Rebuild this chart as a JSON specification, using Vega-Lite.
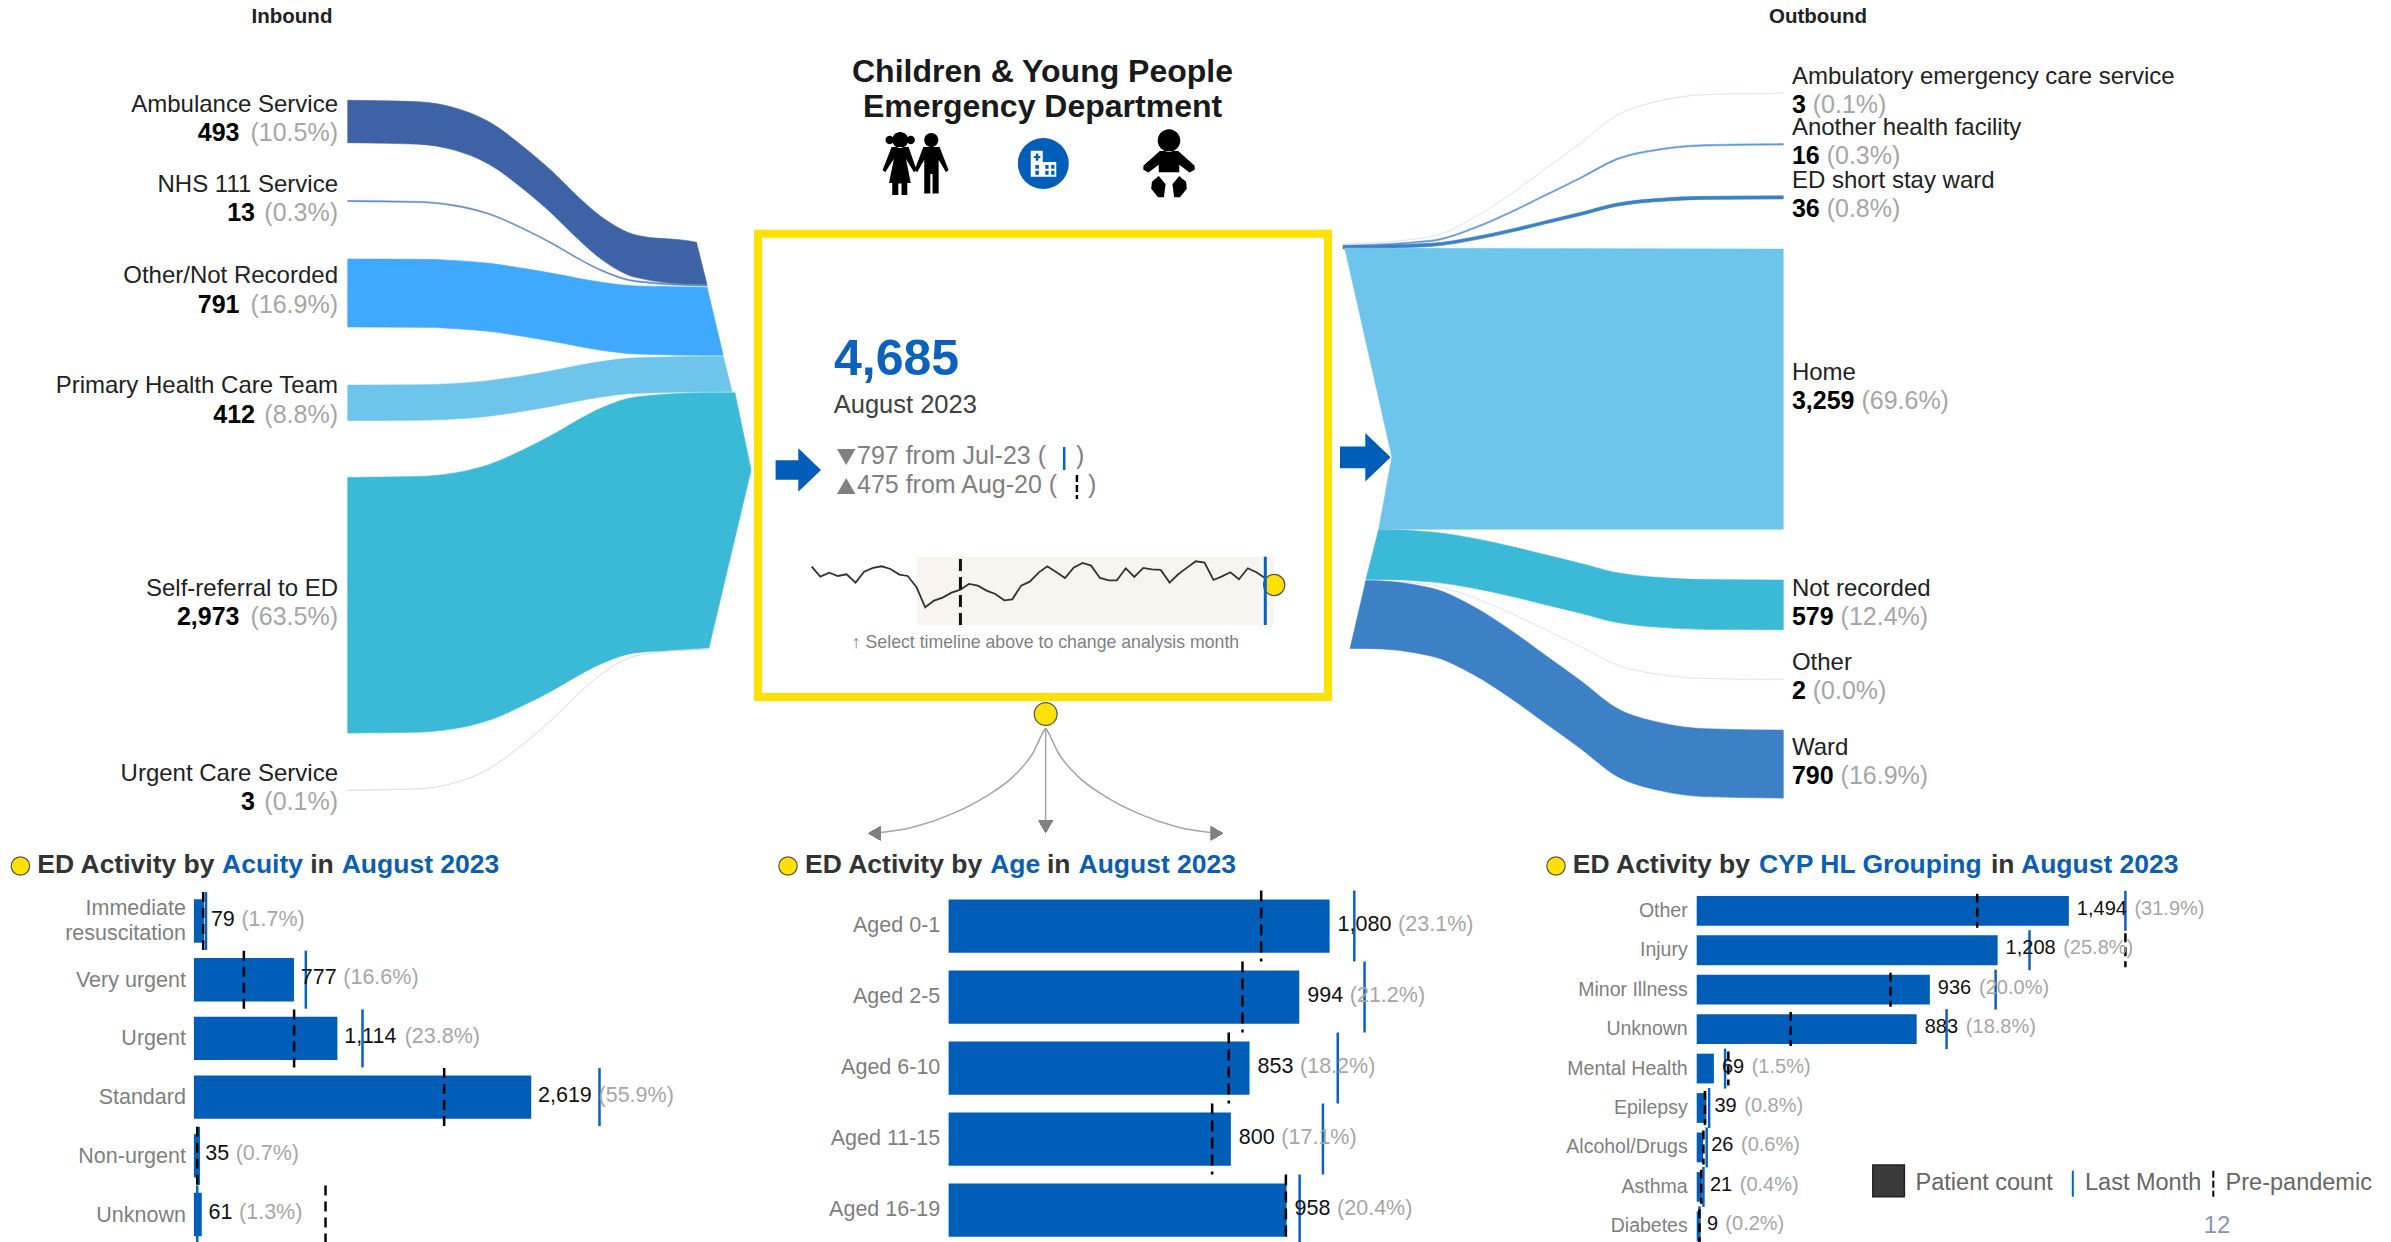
{"$schema":"https://vega.github.io/schema/vega-lite/v6.json","width":2391,"height":1242,"autosize":"none","padding":0,"background":"white",
"config":{"font":"Liberation Sans","view":{"stroke":null},"axis":{"disable":true},"legend":{"disable":true},"text":{"baseline":"middle"}},
"resolve":{"scale":{"x":"independent","y":"independent","color":"independent","stroke":"independent"}},
"data":{"values":[{"k":1}]},
"datasets":{
"inflow":[
{"flow":"Ambulance Service","stage":0,"top":1166,"bottom":1659},{"flow":"Ambulance Service","stage":20,"top":1183,"bottom":1676},{"flow":"Ambulance Service","stage":30,"top":1249,"bottom":1742},{"flow":"Ambulance Service","stage":40,"top":1414,"bottom":1907},{"flow":"Ambulance Service","stage":50,"top":1711,"bottom":2204},{"flow":"Ambulance Service","stage":58,"top":1992,"bottom":2485},{"flow":"Ambulance Service","stage":65,"top":2273,"bottom":2766},{"flow":"Ambulance Service","stage":72,"top":2521,"bottom":3014},{"flow":"Ambulance Service","stage":82,"top":2735,"bottom":3228},{"flow":"Ambulance Service","stage":99,"top":2818,"bottom":3311},{"flow":"Ambulance Service","stage":99.2,"top":2851,"bottom":3311},{"flow":"Ambulance Service","stage":100.5,"top":3064,"bottom":3311},{"flow":"Ambulance Service","stage":101.8,"top":3278,"bottom":3311},{"flow":"Ambulance Service","stage":102,"top":3311,"bottom":3311},
{"flow":"NHS 111 Service","stage":0,"top":2332,"bottom":2345},{"flow":"NHS 111 Service","stage":20,"top":2342,"bottom":2355},{"flow":"NHS 111 Service","stage":30,"top":2381,"bottom":2394},{"flow":"NHS 111 Service","stage":40,"top":2479,"bottom":2492},{"flow":"NHS 111 Service","stage":50,"top":2656,"bottom":2669},{"flow":"NHS 111 Service","stage":58,"top":2823,"bottom":2836},{"flow":"NHS 111 Service","stage":65,"top":2990,"bottom":3003},{"flow":"NHS 111 Service","stage":72,"top":3137,"bottom":3150},{"flow":"NHS 111 Service","stage":82,"top":3265,"bottom":3278},{"flow":"NHS 111 Service","stage":102,"top":3314,"bottom":3327},
{"flow":"Other/Not Recorded","stage":0,"top":3012,"bottom":3803},{"flow":"Other/Not Recorded","stage":20,"top":3015,"bottom":3806},{"flow":"Other/Not Recorded","stage":30,"top":3028,"bottom":3819},{"flow":"Other/Not Recorded","stage":40,"top":3061,"bottom":3852},{"flow":"Other/Not Recorded","stage":50,"top":3121,"bottom":3912},{"flow":"Other/Not Recorded","stage":58,"top":3177,"bottom":3968},{"flow":"Other/Not Recorded","stage":65,"top":3232,"bottom":4023},{"flow":"Other/Not Recorded","stage":72,"top":3282,"bottom":4073},{"flow":"Other/Not Recorded","stage":82,"top":3325,"bottom":4116},{"flow":"Other/Not Recorded","stage":102,"top":3341,"bottom":4132},{"flow":"Other/Not Recorded","stage":102.2,"top":3375,"bottom":4132},{"flow":"Other/Not Recorded","stage":104,"top":3685,"bottom":4132},{"flow":"Other/Not Recorded","stage":106.4,"top":4098,"bottom":4132},{"flow":"Other/Not Recorded","stage":106.6,"top":4132,"bottom":4132},
{"flow":"Primary Health Care Team","stage":0,"top":4478,"bottom":4890},{"flow":"Primary Health Care Team","stage":20,"top":4475,"bottom":4887},{"flow":"Primary Health Care Team","stage":30,"top":4461,"bottom":4873},{"flow":"Primary Health Care Team","stage":40,"top":4428,"bottom":4840},{"flow":"Primary Health Care Team","stage":50,"top":4368,"bottom":4780},{"flow":"Primary Health Care Team","stage":58,"top":4311,"bottom":4723},{"flow":"Primary Health Care Team","stage":65,"top":4254,"bottom":4666},{"flow":"Primary Health Care Team","stage":72,"top":4204,"bottom":4616},{"flow":"Primary Health Care Team","stage":82,"top":4161,"bottom":4573},{"flow":"Primary Health Care Team","stage":106.6,"top":4144,"bottom":4556},{"flow":"Primary Health Care Team","stage":106.8,"top":4177,"bottom":4556},{"flow":"Primary Health Care Team","stage":108,"top":4375,"bottom":4556},{"flow":"Primary Health Care Team","stage":108.9,"top":4523,"bottom":4556},{"flow":"Primary Health Care Team","stage":109.1,"top":4556,"bottom":4556},
{"flow":"Self-referral to ED","stage":0,"top":5551,"bottom":8524},{"flow":"Self-referral to ED","stage":20,"top":5541,"bottom":8514},{"flow":"Self-referral to ED","stage":30,"top":5502,"bottom":8475},{"flow":"Self-referral to ED","stage":40,"top":5403,"bottom":8376},{"flow":"Self-referral to ED","stage":50,"top":5226,"bottom":8199},{"flow":"Self-referral to ED","stage":58,"top":5059,"bottom":8032},{"flow":"Self-referral to ED","stage":65,"top":4892,"bottom":7865},{"flow":"Self-referral to ED","stage":72,"top":4744,"bottom":7717},{"flow":"Self-referral to ED","stage":82,"top":4616,"bottom":7589},{"flow":"Self-referral to ED","stage":102.5,"top":4567,"bottom":7540},{"flow":"Self-referral to ED","stage":102.7,"top":4567,"bottom":7505},{"flow":"Self-referral to ED","stage":106,"top":4567,"bottom":6935},{"flow":"Self-referral to ED","stage":109.9,"top":4567,"bottom":6260},{"flow":"Self-referral to ED","stage":110.1,"top":4606,"bottom":6226},{"flow":"Self-referral to ED","stage":112,"top":4977,"bottom":5897},{"flow":"Self-referral to ED","stage":114.3,"top":5426,"bottom":5500},{"flow":"Self-referral to ED","stage":114.5,"top":5465,"bottom":5465},
{"flow":"Urgent Care Service","stage":0,"top":9188,"bottom":9191},{"flow":"Urgent Care Service","stage":20,"top":9172,"bottom":9175},{"flow":"Urgent Care Service","stage":30,"top":9106,"bottom":9109},{"flow":"Urgent Care Service","stage":40,"top":8941,"bottom":8944},{"flow":"Urgent Care Service","stage":50,"top":8644,"bottom":8647},{"flow":"Urgent Care Service","stage":58,"top":8364,"bottom":8367},{"flow":"Urgent Care Service","stage":65,"top":8084,"bottom":8087},{"flow":"Urgent Care Service","stage":72,"top":7837,"bottom":7840},{"flow":"Urgent Care Service","stage":82,"top":7622,"bottom":7625},{"flow":"Urgent Care Service","stage":102.5,"top":7540,"bottom":7543}
],
"outflow":[
{"flow":"Ambulatory emergency care service","stage":0,"top":2838,"bottom":2841},{"flow":"Ambulatory emergency care service","stage":20,"top":2750,"bottom":2753},{"flow":"Ambulatory emergency care service","stage":30,"top":2522,"bottom":2525},{"flow":"Ambulatory emergency care service","stage":38,"top":2259,"bottom":2262},{"flow":"Ambulatory emergency care service","stage":46,"top":1960,"bottom":1963},{"flow":"Ambulatory emergency care service","stage":54,"top":1661,"bottom":1664},{"flow":"Ambulatory emergency care service","stage":62,"top":1345,"bottom":1348},{"flow":"Ambulatory emergency care service","stage":72,"top":1170,"bottom":1173},{"flow":"Ambulatory emergency care service","stage":82,"top":1100,"bottom":1103},{"flow":"Ambulatory emergency care service","stage":100,"top":1082,"bottom":1085},
{"flow":"Another health facility","stage":0,"top":2852,"bottom":2868},{"flow":"Another health facility","stage":20,"top":2793,"bottom":2809},{"flow":"Another health facility","stage":30,"top":2639,"bottom":2655},{"flow":"Another health facility","stage":38,"top":2462,"bottom":2478},{"flow":"Another health facility","stage":46,"top":2261,"bottom":2277},{"flow":"Another health facility","stage":54,"top":2060,"bottom":2076},{"flow":"Another health facility","stage":62,"top":1847,"bottom":1863},{"flow":"Another health facility","stage":72,"top":1729,"bottom":1745},{"flow":"Another health facility","stage":82,"top":1682,"bottom":1698},{"flow":"Another health facility","stage":100,"top":1670,"bottom":1686},
{"flow":"ED short stay ward","stage":0,"top":2858,"bottom":2894},{"flow":"ED short stay ward","stage":20,"top":2829,"bottom":2865},{"flow":"ED short stay ward","stage":30,"top":2753,"bottom":2789},{"flow":"ED short stay ward","stage":38,"top":2666,"bottom":2702},{"flow":"ED short stay ward","stage":46,"top":2567,"bottom":2603},{"flow":"ED short stay ward","stage":54,"top":2469,"bottom":2505},{"flow":"ED short stay ward","stage":62,"top":2364,"bottom":2400},{"flow":"ED short stay ward","stage":72,"top":2306,"bottom":2342},{"flow":"ED short stay ward","stage":82,"top":2283,"bottom":2319},{"flow":"ED short stay ward","stage":100,"top":2277,"bottom":2313},
{"flow":"Not recorded","stage":5.2,"top":6737,"bottom":6737},{"flow":"Not recorded","stage":5.4,"top":6697,"bottom":6737},{"flow":"Not recorded","stage":6.6,"top":6458,"bottom":6737},{"flow":"Not recorded","stage":7.9,"top":6198,"bottom":6737},{"flow":"Not recorded","stage":8.1,"top":6158,"bottom":6737},{"flow":"Not recorded","stage":20,"top":6187,"bottom":6766},{"flow":"Not recorded","stage":30,"top":6264,"bottom":6843},{"flow":"Not recorded","stage":38,"top":6352,"bottom":6931},{"flow":"Not recorded","stage":46,"top":6452,"bottom":7031},{"flow":"Not recorded","stage":54,"top":6551,"bottom":7130},{"flow":"Not recorded","stage":62,"top":6657,"bottom":7236},{"flow":"Not recorded","stage":72,"top":6716,"bottom":7295},{"flow":"Not recorded","stage":82,"top":6739,"bottom":7318},{"flow":"Not recorded","stage":100,"top":6745,"bottom":7324},
{"flow":"Other","stage":5.2,"top":6745,"bottom":6747},{"flow":"Other","stage":20,"top":6803,"bottom":6805},{"flow":"Other","stage":30,"top":6953,"bottom":6955},{"flow":"Other","stage":38,"top":7126,"bottom":7128},{"flow":"Other","stage":46,"top":7323,"bottom":7325},{"flow":"Other","stage":54,"top":7519,"bottom":7521},{"flow":"Other","stage":62,"top":7727,"bottom":7729},{"flow":"Other","stage":72,"top":7842,"bottom":7844},{"flow":"Other","stage":82,"top":7888,"bottom":7890},{"flow":"Other","stage":100,"top":7900,"bottom":7902},
{"flow":"Ward","stage":1.6,"top":7541,"bottom":7541},{"flow":"Ward","stage":1.8,"top":7497,"bottom":7541},{"flow":"Ward","stage":3.5,"top":7124,"bottom":7541},{"flow":"Ward","stage":5,"top":6795,"bottom":7541},{"flow":"Ward","stage":5.2,"top":6751,"bottom":7541},{"flow":"Ward","stage":20,"top":6838,"bottom":7628},{"flow":"Ward","stage":30,"top":7064,"bottom":7854},{"flow":"Ward","stage":38,"top":7325,"bottom":8115},{"flow":"Ward","stage":46,"top":7621,"bottom":8411},{"flow":"Ward","stage":54,"top":7916,"bottom":8706},{"flow":"Ward","stage":62,"top":8229,"bottom":9019},{"flow":"Ward","stage":72,"top":8403,"bottom":9193},{"flow":"Ward","stage":82,"top":8473,"bottom":9263},{"flow":"Ward","stage":100,"top":8490,"bottom":9280}
],
"home":[{"seq":1,"stage":0.4,"u":2884},{"seq":2,"stage":100,"u":2896},{"seq":3,"stage":100,"u":6155},{"seq":4,"stage":8.1,"u":6155},{"seq":5,"stage":11.1,"u":5315}],
"inLabels":[{"name":"Ambulance Service","count":493,"pct":"(10.5%)","mid":1412},{"name":"NHS 111 Service","count":13,"pct":"(0.3%)","mid":2338},{"name":"Other/Not Recorded","count":791,"pct":"(16.9%)","mid":3407},{"name":"Primary Health Care Team","count":412,"pct":"(8.8%)","mid":4684},{"name":"Self-referral to ED","count":2973,"pct":"(63.5%)","mid":7037},{"name":"Urgent Care Service","count":3,"pct":"(0.1%)","mid":9190}],
"outLabels":[{"name":"Ambulatory emergency care service","count":3,"pct":"(0.1%)","mid":1082},{"name":"Another health facility","count":16,"pct":"(0.3%)","mid":1678},{"name":"ED short stay ward","count":36,"pct":"(0.8%)","mid":2295},{"name":"Home","count":3259,"pct":"(69.6%)","mid":4526},{"name":"Not recorded","count":579,"pct":"(12.4%)","mid":7035},{"name":"Other","count":2,"pct":"(0.0%)","mid":7900},{"name":"Ward","count":790,"pct":"(16.9%)","mid":8885}],
"months":[{"month":"2019-04-01","n":5735},{"month":"2019-05-01","n":4835},{"month":"2019-06-01","n":5195},{"month":"2019-07-01","n":4895},{"month":"2019-08-01","n":5045},{"month":"2019-09-01","n":4295},{"month":"2019-10-01","n":5285},{"month":"2019-11-01","n":5615},{"month":"2019-12-01","n":5765},{"month":"2020-01-01","n":5525},{"month":"2020-02-01","n":5015},{"month":"2020-03-01","n":4895},{"month":"2020-04-01","n":3875},{"month":"2020-05-01","n":2075},{"month":"2020-06-01","n":2675},{"month":"2020-07-01","n":2945},{"month":"2020-08-01","n":3395},{"month":"2020-09-01","n":3665},{"month":"2020-10-01","n":4175},{"month":"2020-11-01","n":4025},{"month":"2020-12-01","n":3575},{"month":"2021-01-01","n":3275},{"month":"2021-02-01","n":2705},{"month":"2021-03-01","n":2795},{"month":"2021-04-01","n":4025},{"month":"2021-05-01","n":4385},{"month":"2021-06-01","n":5195},{"month":"2021-07-01","n":5765},{"month":"2021-08-01","n":5255},{"month":"2021-09-01","n":4715},{"month":"2021-10-01","n":5645},{"month":"2021-11-01","n":6065},{"month":"2021-12-01","n":5825},{"month":"2022-01-01","n":4715},{"month":"2022-02-01","n":4505},{"month":"2022-03-01","n":4505},{"month":"2022-04-01","n":5585},{"month":"2022-05-01","n":4805},{"month":"2022-06-01","n":5615},{"month":"2022-07-01","n":5495},{"month":"2022-08-01","n":5435},{"month":"2022-09-01","n":4295},{"month":"2022-10-01","n":5045},{"month":"2022-11-01","n":5645},{"month":"2022-12-01","n":6215},{"month":"2023-01-01","n":6095},{"month":"2023-02-01","n":4535},{"month":"2023-03-01","n":4835},{"month":"2023-04-01","n":5225},{"month":"2023-05-01","n":4595},{"month":"2023-06-01","n":5585},{"month":"2023-07-01","n":5225},{"month":"2023-08-01","n":4685}],
"connectors":[{"arrow":"left","across":0,"down":0},{"arrow":"left","across":-0.7,"down":1.6},{"arrow":"left","across":-7.6,"down":24},{"arrow":"left","across":-19,"down":46},{"arrow":"left","across":-35,"down":65},{"arrow":"left","across":-54,"down":81},{"arrow":"left","across":-77,"down":94},{"arrow":"left","across":-100,"down":100},{"arrow":"centre","across":0,"down":0},{"arrow":"centre","across":0,"down":94},{"arrow":"right","across":0,"down":0},{"arrow":"right","across":0.7,"down":1.6},{"arrow":"right","across":7.6,"down":24},{"arrow":"right","across":19,"down":46},{"arrow":"right","across":35,"down":65},{"arrow":"right","across":54,"down":81},{"arrow":"right","across":77,"down":94},{"arrow":"right","across":100,"down":100}],
"acuity":[{"cat":"Immediate resuscitation","label":"Immediate\nresuscitation","count":79,"pct":"(1.7%)","last":94,"pre":72},{"cat":"Very urgent","label":"Very urgent","count":777,"pct":"(16.6%)","last":869,"pre":388},{"cat":"Urgent","label":"Urgent","count":1114,"pct":"(23.8%)","last":1309,"pre":778},{"cat":"Standard","label":"Standard","count":2619,"pct":"(55.9%)","last":3149,"pre":1943},{"cat":"Non-urgent","label":"Non-urgent","count":35,"pct":"(0.7%)","last":38,"pre":26},{"cat":"Unknown","label":"Unknown","count":61,"pct":"(1.3%)","last":26,"pre":1022}],
"age":[{"cat":"Aged 0-1","count":1080,"pct":"(23.1%)","last":1150,"pre":886},{"cat":"Aged 2-5","count":994,"pct":"(21.2%)","last":1179,"pre":833},{"cat":"Aged 6-10","count":853,"pct":"(18.2%)","last":1103,"pre":794},{"cat":"Aged 11-15","count":800,"pct":"(17.1%)","last":1061,"pre":747},{"cat":"Aged 16-19","count":958,"pct":"(20.4%)","last":995,"pre":956}],
"hl":[{"cat":"Other","count":1494,"pct":"(31.9%)","last":1721,"pre":1126},{"cat":"Injury","count":1208,"pct":"(25.8%)","last":1336,"pre":1721},{"cat":"Minor Illness","count":936,"pct":"(20.0%)","last":1200,"pre":778},{"cat":"Unknown","count":883,"pct":"(18.8%)","last":1003,"pre":377},{"cat":"Mental Health","count":69,"pct":"(1.5%)","last":114,"pre":127},{"cat":"Epilepsy","count":39,"pct":"(0.8%)","last":50,"pre":33},{"cat":"Alcohol/Drugs","count":26,"pct":"(0.6%)","last":40,"pre":27},{"cat":"Asthma","count":21,"pct":"(0.4%)","last":27,"pre":18},{"cat":"Diabetes","count":9,"pct":"(0.2%)","last":11,"pre":11}]
},
"layer":[
{"data":{"name":"inflow"},"layer":[
{"mark":{"type":"area","strokeWidth":0.6,"interpolate":"monotone"},"encoding":{"x":{"field":"stage","type":"quantitative","scale":{"domain":[0,100],"range":[347.7,700],"nice":false}},"y":{"field":"top","type":"quantitative","stack":null,"scale":{"domain":[0,14442],"range":[0,1242],"nice":false}},"y2":{"field":"bottom"},
"color":{"field":"flow","type":"nominal","scale":{"domain":["Ambulance Service","NHS 111 Service","Other/Not Recorded","Primary Health Care Team","Self-referral to ED","Urgent Care Service"],"range":["#3d62a6","#5f8bc9","#3ea9fe","#6dc5eb","#3bbad8","#dcdcdc"]}},
"stroke":{"field":"flow","type":"nominal","scale":{"domain":["Ambulance Service","NHS 111 Service","Other/Not Recorded","Primary Health Care Team","Self-referral to ED","Urgent Care Service"],"range":["#3d62a6","#5f8bc9","#3ea9fe","#6dc5eb","#3bbad8","#dcdcdc"]}}}},
{"data":{"name":"inLabels"},"transform":[{"calculate":"-(15.5*length(datum.pct)-10)","as":"pw"}],"layer":[
{"mark":{"type":"text","align":"right","dx":-9.7,"dy":-16.5,"fontSize":24,"color":"#222"},"encoding":{"x":{"datum":0},"y":{"field":"mid","type":"quantitative"},"text":{"field":"name"}}},
{"mark":{"type":"text","align":"right","dx":-9.7,"dy":12,"fontSize":25,"color":"#a6a6a6"},"encoding":{"x":{"datum":0},"y":{"field":"mid","type":"quantitative"},"text":{"field":"pct"}}},
{"mark":{"type":"text","align":"right","dx":-9.7,"dy":12,"fontSize":25,"fontWeight":"bold","color":"#000"},"encoding":{"x":{"datum":0},"xOffset":{"field":"pw","type":"quantitative","scale":{"domain":[-200,200],"range":[-200,200]}},"y":{"field":"mid","type":"quantitative"},"text":{"field":"count","type":"quantitative","format":","}}}
]}
]},
{"data":{"name":"outflow"},"layer":[
{"mark":{"type":"area","strokeWidth":0.6,"interpolate":"monotone"},"encoding":{"x":{"field":"stage","type":"quantitative","scale":{"domain":[0,100],"range":[1343,1783.3],"nice":false}},"y":{"field":"top","type":"quantitative","stack":null,"scale":{"domain":[0,14442],"range":[0,1242],"nice":false}},"y2":{"field":"bottom"},
"color":{"field":"flow","type":"nominal","scale":{"domain":["Ambulatory emergency care service","Another health facility","ED short stay ward","Not recorded","Other","Ward"],"range":["#dbe4f3","#5f97d6","#3c80c6","#3bbad8","#dbe4f3","#3c80c6"]}},
"stroke":{"field":"flow","type":"nominal","scale":{"domain":["Ambulatory emergency care service","Another health facility","ED short stay ward","Not recorded","Other","Ward"],"range":["#dbe4f3","#5f97d6","#3c80c6","#3bbad8","#dbe4f3","#3c80c6"]}}}},
{"data":{"name":"home"},"mark":{"type":"line","fill":"#6dc5eb","stroke":"#6dc5eb","strokeWidth":0.5,"interpolate":"linear-closed"},"encoding":{"x":{"field":"stage","type":"quantitative"},"y":{"field":"u","type":"quantitative"},"order":{"field":"seq"}}},
{"data":{"name":"outLabels"},"transform":[{"calculate":"(datum.count>=1000?4:datum.count>=100?3:datum.count>=10?2:1)*13.9+(datum.count>=1000?6.95:0)+6.95","as":"cw"}],"layer":[
{"mark":{"type":"text","align":"left","dx":8.6,"dy":-16,"fontSize":24,"color":"#222"},"encoding":{"x":{"datum":100},"y":{"field":"mid","type":"quantitative"},"text":{"field":"name"}}},
{"mark":{"type":"text","align":"left","dx":8.6,"dy":12,"fontSize":25,"fontWeight":"bold","color":"#000"},"encoding":{"x":{"datum":100},"y":{"field":"mid","type":"quantitative"},"text":{"field":"count","type":"quantitative","format":","}}},
{"mark":{"type":"text","align":"left","dx":8.6,"dy":12,"fontSize":25,"color":"#a6a6a6"},"encoding":{"x":{"datum":100},"xOffset":{"field":"cw","type":"quantitative","scale":{"domain":[-200,200],"range":[-200,200]}},"y":{"field":"mid","type":"quantitative"},"text":{"field":"pct"}}}
]}
]},
{"layer":[
{"mark":{"type":"rect","fill":"transparent","stroke":"#ffe100","strokeWidth":8},"encoding":{"x":{"datum":758,"scale":{"domain":[0,2391],"range":[0,2391],"nice":false}},"x2":{"datum":1328},"y":{"datum":233.7,"scale":{"domain":[0,1242],"range":[0,1242],"nice":false}},"y2":{"datum":697}}},
{"mark":{"type":"text","align":"center","fontSize":20.5,"fontWeight":"bold","color":"#222"},"encoding":{"x":{"datum":292},"y":{"datum":17},"text":{"value":"Inbound"}}},
{"mark":{"type":"text","align":"center","fontSize":20.5,"fontWeight":"bold","color":"#222"},"encoding":{"x":{"datum":1818},"y":{"datum":17},"text":{"value":"Outbound"}}},
{"mark":{"type":"text","align":"center","fontSize":32,"fontWeight":"bold","color":"#1a1a1a"},"encoding":{"x":{"datum":1042.5},"y":{"datum":71.5},"text":{"value":"Children & Young People"}}},
{"mark":{"type":"text","align":"center","fontSize":32,"fontWeight":"bold","color":"#1a1a1a"},"encoding":{"x":{"datum":1042.5},"y":{"datum":106.5},"text":{"value":"Emergency Department"}}},
{"mark":{"type":"point","filled":true,"strokeWidth":0,"opacity":1,"color":"#000","size":4096,"shape":"M-.73,-.74a.25,.25 0 1,0 .5,0a.25,.25 0 1,0 -.5,0zM-.94,-.74a.13,.13 0 1,0 .26,0a.13,.13 0 1,0 -.26,0zM-.28,-.74a.13,.13 0 1,0 .26,0a.13,.13 0 1,0 -.26,0zM.27,-.74a.22,.22 0 1,0 .44,0a.22,.22 0 1,0 -.44,0zM-.75,-.52L-.22,-.52L.03,.2L-.05,.27L-.3,-.15L-.15,.6L-.26,.6L-.26,.98L-.44,.98L-.44,.62L-.54,.62L-.54,.98L-.73,.98L-.73,.6L-.83,.6L-.68,-.15L-.95,.27L-1.03,.2ZM.24,-.52L.75,-.52L1.03,.2L.95,.27L.72,-.12L.72,.93L.53,.93L.53,.32L.46,.32L.46,.93L.27,.93L.27,-.12L.05,.27L-.03,.2Z"},"encoding":{"x":{"datum":915.6},"y":{"datum":163.7}}},
{"mark":{"type":"point","filled":true,"strokeWidth":0,"opacity":1,"color":"#005eb8","size":2601,"shape":"circle"},"encoding":{"x":{"datum":1043.3},"y":{"datum":163.5}}},
{"mark":{"type":"point","filled":true,"strokeWidth":0,"opacity":1,"color":"#fff","size":2601,"shape":"M-.5,-.51L-.03,-.51L-.03,-.07L.5,-.07L.5,.51L-.5,.51ZM.07,.05L.07,.2L.2,.2L.2,.05ZM.3,.05L.3,.2L.43,.2L.43,.05ZM.07,.28L.07,.43L.2,.43L.2,.28ZM.3,.28L.3,.43L.43,.43L.43,.28ZM-.32,.05L-.32,.2L-.18,.2L-.18,.05ZM-.32,.28L-.32,.43L-.18,.43L-.18,.28ZM-.3,-.4L-.3,-.3L-.38,-.3L-.38,-.22L-.3,-.22L-.3,-.12L-.2,-.12L-.2,-.22L-.12,-.22L-.12,-.3L-.2,-.3L-.2,-.4Z"},"encoding":{"x":{"datum":1043.5},"y":{"datum":163.7}}},
{"mark":{"type":"point","filled":true,"strokeWidth":0,"opacity":1,"color":"#000","size":4680,"shape":"M-.33,-.66a.33,.33 0 1,0 .66,0a.33,.33 0 1,0 -.66,0zM-.27,-.35L.27,-.35L.75,.08L.75,.2L.6,.28L.3,.05L.3,.27L-.3,.27L-.3,.05L-.6,.28L-.75,.2L-.75,.08ZM-.3,.38L-.1,.62L-.15,1L-.32,1L-.52,.75L-.5,.55ZM.3,.38L.5,.55L.52,.75L.32,1L.15,1L.1,.62Z"},"encoding":{"x":{"datum":1169},"y":{"datum":163}}},
{"mark":{"type":"point","filled":true,"strokeWidth":0,"opacity":1,"color":"#005eb8","size":2061,"shape":"M-1,-.43L0,-.43L0,-.96L1,0L0,.96L0,.43L-1,.43Z"},"encoding":{"x":{"datum":798.3},"y":{"datum":470}}},
{"mark":{"type":"point","filled":true,"strokeWidth":0,"opacity":1,"color":"#005eb8","size":2560,"shape":"M-1,-.43L0,-.43L0,-.96L1,0L0,.96L0,.43L-1,.43Z"},"encoding":{"x":{"datum":1365.3},"y":{"datum":457.3}}},
{"mark":{"type":"text","align":"left","fontSize":50,"fontWeight":"bold","color":"#0a62bd"},"encoding":{"x":{"datum":834},"y":{"datum":359.5},"text":{"value":"4,685"}}},
{"mark":{"type":"text","align":"left","fontSize":25.5,"color":"#404040"},"encoding":{"x":{"datum":833.7},"y":{"datum":405},"text":{"value":"August 2023"}}},
{"mark":{"type":"point","filled":true,"strokeWidth":0,"opacity":1,"color":"#808080","size":340,"shape":"triangle-down"},"encoding":{"x":{"datum":846.2},"y":{"datum":457}}},
{"mark":{"type":"point","filled":true,"strokeWidth":0,"opacity":1,"color":"#808080","size":340,"shape":"triangle-up"},"encoding":{"x":{"datum":846.2},"y":{"datum":486}}},
{"mark":{"type":"text","align":"left","fontSize":25,"color":"#808080"},"encoding":{"x":{"datum":857},"y":{"datum":456},"text":{"value":"797 from Jul-23 ("}}},
{"mark":{"type":"text","align":"left","fontSize":25,"color":"#808080"},"encoding":{"x":{"datum":1076},"y":{"datum":456},"text":{"value":")"}}},
{"mark":{"type":"text","align":"left","fontSize":25,"color":"#808080"},"encoding":{"x":{"datum":857},"y":{"datum":485},"text":{"value":"475 from Aug-20 ("}}},
{"mark":{"type":"text","align":"left","fontSize":25,"color":"#808080"},"encoding":{"x":{"datum":1088},"y":{"datum":485},"text":{"value":")"}}},
{"mark":{"type":"rule","color":"#0a62bd","strokeWidth":2.5},"encoding":{"x":{"datum":1064.2},"y":{"datum":447},"y2":{"datum":470}}},
{"mark":{"type":"rule","color":"#000","strokeWidth":2.5,"strokeDash":[7,3]},"encoding":{"x":{"datum":1076.9},"y":{"datum":475},"y2":{"datum":499}}},
{"mark":{"type":"text","align":"center","fontSize":17.7,"color":"#7f7f7f"},"encoding":{"x":{"datum":1045.5},"y":{"datum":643},"text":{"value":"↑ Select timeline above to change analysis month"}}},
{"mark":{"type":"point","shape":"circle","filled":true,"fill":"#ffe100","stroke":"#555","strokeWidth":1.2,"opacity":1,"size":520},"encoding":{"x":{"datum":1045.7},"y":{"datum":714}}},
{"mark":{"type":"point","shape":"circle","filled":true,"fill":"#ffe100","stroke":"#555","strokeWidth":1.2,"opacity":1,"size":340},"encoding":{"x":{"datum":20.4},"y":{"datum":866}}},
{"mark":{"type":"text","align":"left","fontSize":26.5,"fontWeight":"bold","color":"#333"},"encoding":{"x":{"datum":37.3},"y":{"datum":865},"text":{"value":"ED Activity by"}}},
{"mark":{"type":"text","align":"left","fontSize":26.5,"fontWeight":"bold","color":"#0a5fb4"},"encoding":{"x":{"datum":222},"y":{"datum":865},"text":{"value":"Acuity"}}},
{"mark":{"type":"text","align":"left","fontSize":26.5,"fontWeight":"bold","color":"#333"},"encoding":{"x":{"datum":310.2},"y":{"datum":865},"text":{"value":"in"}}},
{"mark":{"type":"text","align":"left","fontSize":26.5,"fontWeight":"bold","color":"#0a5fb4"},"encoding":{"x":{"datum":341.7},"y":{"datum":865},"text":{"value":"August 2023"}}},
{"mark":{"type":"point","shape":"circle","filled":true,"fill":"#ffe100","stroke":"#555","strokeWidth":1.2,"opacity":1,"size":340},"encoding":{"x":{"datum":788},"y":{"datum":866}}},
{"mark":{"type":"text","align":"left","fontSize":26.5,"fontWeight":"bold","color":"#333"},"encoding":{"x":{"datum":805},"y":{"datum":865},"text":{"value":"ED Activity by"}}},
{"mark":{"type":"text","align":"left","fontSize":26.5,"fontWeight":"bold","color":"#0a5fb4"},"encoding":{"x":{"datum":990.2},"y":{"datum":865},"text":{"value":"Age"}}},
{"mark":{"type":"text","align":"left","fontSize":26.5,"fontWeight":"bold","color":"#333"},"encoding":{"x":{"datum":1047},"y":{"datum":865},"text":{"value":"in"}}},
{"mark":{"type":"text","align":"left","fontSize":26.5,"fontWeight":"bold","color":"#0a5fb4"},"encoding":{"x":{"datum":1078.5},"y":{"datum":865},"text":{"value":"August 2023"}}},
{"mark":{"type":"point","shape":"circle","filled":true,"fill":"#ffe100","stroke":"#555","strokeWidth":1.2,"opacity":1,"size":340},"encoding":{"x":{"datum":1556},"y":{"datum":866}}},
{"mark":{"type":"text","align":"left","fontSize":26.5,"fontWeight":"bold","color":"#333"},"encoding":{"x":{"datum":1572.8},"y":{"datum":865},"text":{"value":"ED Activity by"}}},
{"mark":{"type":"text","align":"left","fontSize":26.5,"fontWeight":"bold","color":"#0a5fb4"},"encoding":{"x":{"datum":1758.9},"y":{"datum":865},"text":{"value":"CYP HL Grouping"}}},
{"mark":{"type":"text","align":"left","fontSize":26.5,"fontWeight":"bold","color":"#333"},"encoding":{"x":{"datum":1991},"y":{"datum":865},"text":{"value":"in"}}},
{"mark":{"type":"text","align":"left","fontSize":26.5,"fontWeight":"bold","color":"#0a5fb4"},"encoding":{"x":{"datum":2021},"y":{"datum":865},"text":{"value":"August 2023"}}},
{"mark":{"type":"rect","fill":"#3a3a3a","stroke":"#222","strokeWidth":1.5},"encoding":{"x":{"datum":1872.8},"x2":{"datum":1904.4},"y":{"datum":1165},"y2":{"datum":1196.7}}},
{"mark":{"type":"text","align":"left","fontSize":23.5,"color":"#666"},"encoding":{"x":{"datum":1915.6},"y":{"datum":1182.7},"text":{"value":"Patient count"}}},
{"mark":{"type":"rule","color":"#0a62bd","strokeWidth":2},"encoding":{"x":{"datum":2072.8},"y":{"datum":1170.7},"y2":{"datum":1196.7}}},
{"mark":{"type":"text","align":"left","fontSize":23.5,"color":"#666"},"encoding":{"x":{"datum":2085},"y":{"datum":1182.7},"text":{"value":"Last Month"}}},
{"mark":{"type":"rule","color":"#000","strokeWidth":2,"strokeDash":[7,3]},"encoding":{"x":{"datum":2213.3},"y":{"datum":1170.7},"y2":{"datum":1196.7}}},
{"mark":{"type":"text","align":"left","fontSize":23.5,"color":"#666"},"encoding":{"x":{"datum":2225.6},"y":{"datum":1182.7},"text":{"value":"Pre-pandemic"}}},
{"mark":{"type":"text","align":"center","fontSize":24,"color":"#8a94b8"},"encoding":{"x":{"datum":2217},"y":{"datum":1226},"text":{"value":"12"}}}
]},
{"layer":[
{"data":{"values":[{"start":"2020-04-01","end":"2023-09-01"}]},"mark":{"type":"rect","color":"#f8f4f0"},"encoding":{"x":{"field":"start","type":"temporal","scale":{"type":"time","domain":[{"year":2019,"month":4,"date":1},{"year":2023,"month":8,"date":1}],"range":[811.7,1265.3],"nice":false}},"x2":{"field":"end"},"y":{"datum":482,"scale":{"domain":[482,6629],"range":[625,556.7],"zero":false,"nice":false}},"y2":{"datum":6629}}},
{"data":{"name":"months"},"mark":{"type":"line","color":"#333","strokeWidth":1.8},"encoding":{"x":{"field":"month","type":"temporal"},"y":{"field":"n","type":"quantitative"}}},
{"data":{"values":[{"month":"2020-09-01"}]},"mark":{"type":"rule","color":"#111","strokeWidth":3,"strokeDash":[12,6]},"encoding":{"x":{"field":"month","type":"temporal"},"y":{"datum":482},"y2":{"datum":6629}}},
{"data":{"values":[{"month":"2023-09-01","n":4082}]},"mark":{"type":"point","shape":"circle","filled":true,"fill":"#ffe100","stroke":"#555","strokeWidth":1.2,"opacity":1,"size":450},"encoding":{"x":{"field":"month","type":"temporal"},"y":{"field":"n","type":"quantitative"}}},
{"data":{"values":[{"month":"2023-08-01"}]},"mark":{"type":"rule","color":"#0a62bd","strokeWidth":3},"encoding":{"x":{"field":"month","type":"temporal"},"y":{"datum":482},"y2":{"datum":6629}}}
]},
{"data":{"name":"connectors"},"layer":[
{"mark":{"type":"line","color":"#a6a6a6","strokeWidth":1.5,"interpolate":"monotone"},"encoding":{"x":{"field":"across","type":"quantitative","scale":{"domain":[-100,100],"range":[874.4,1216.9],"nice":false}},"y":{"field":"down","type":"quantitative","scale":{"domain":[0,100],"range":[728.3,833.3],"nice":false}},"detail":{"field":"arrow"},"order":{"field":"down"}}},
{"mark":{"type":"point","filled":true,"strokeWidth":0,"opacity":1,"color":"#808080","size":190,"shape":"triangle-left"},"encoding":{"x":{"datum":-100},"y":{"datum":100}}},
{"mark":{"type":"point","filled":true,"strokeWidth":0,"opacity":1,"color":"#808080","size":190,"shape":"triangle-down"},"encoding":{"x":{"datum":0},"y":{"datum":93.7}}},
{"mark":{"type":"point","filled":true,"strokeWidth":0,"opacity":1,"color":"#808080","size":190,"shape":"triangle-right"},"encoding":{"x":{"datum":100},"y":{"datum":100}}}
]},
{"data":{"name":"acuity"},
"encoding":{"y":{"field":"cat","type":"nominal","scale":{"type":"band","domain":["Immediate resuscitation","Very urgent","Urgent","Standard","Non-urgent","Unknown"],"range":[891.65,1243.85],"paddingInner":0.26,"paddingOuter":0.13}}},
"layer":[
{"mark":{"type":"bar","color":"#005eb8"},"encoding":{"x":{"field":"count","type":"quantitative","scale":{"domain":[0,3000],"range":[193.9,580.3],"nice":false}}}},
{"mark":{"type":"rule","color":"#0a62bd","strokeWidth":2.5,"yOffset":-29,"y2Offset":29},"encoding":{"x":{"field":"last","type":"quantitative"},"y2":{"field":"cat"}}},
{"mark":{"type":"rule","color":"#000","strokeWidth":2.5,"strokeDash":[10,6],"yOffset":-29,"y2Offset":29},"encoding":{"x":{"field":"pre","type":"quantitative"},"y2":{"field":"cat"}}},
{"transform":[{"filter":"datum.count!=79"}],"mark":{"type":"text","align":"right","dx":-8,"dy":1,"fontSize":21.5,"color":"#7f7f7f"},"encoding":{"x":{"datum":0},"text":{"field":"label"}}},
{"transform":[{"filter":"datum.count==79"}],"mark":{"type":"text","align":"right","dx":-8,"dy":-12,"fontSize":21.5,"color":"#7f7f7f","lineBreak":"\n","lineHeight":25},"encoding":{"x":{"datum":0},"text":{"field":"label"}}},
{"mark":{"type":"text","align":"left","dx":6.8,"dy":-1.5,"fontSize":21.5,"color":"#111"},"encoding":{"x":{"field":"count","type":"quantitative"},"text":{"field":"count","type":"quantitative","format":","}}},
{"transform":[{"filter":"datum.count<100"}],"mark":{"type":"text","align":"left","dx":37.3,"dy":-1.5,"fontSize":21.5,"color":"#a6a6a6"},"encoding":{"x":{"field":"count","type":"quantitative"},"text":{"field":"pct"}}},
{"transform":[{"filter":"datum.count>=100 && datum.count<1000"}],"mark":{"type":"text","align":"left","dx":49.3,"dy":-1.5,"fontSize":21.5,"color":"#a6a6a6"},"encoding":{"x":{"field":"count","type":"quantitative"},"text":{"field":"pct"}}},
{"transform":[{"filter":"datum.count>=1000"}],"mark":{"type":"text","align":"left","dx":67.3,"dy":-1.5,"fontSize":21.5,"color":"#a6a6a6"},"encoding":{"x":{"field":"count","type":"quantitative"},"text":{"field":"pct"}}}
]},
{"data":{"name":"age"},
"encoding":{"y":{"field":"cat","type":"nominal","scale":{"type":"band","domain":["Aged 0-1","Aged 2-5","Aged 6-10","Aged 11-15","Aged 16-19"],"range":[890.5,1245.5],"paddingInner":0.25,"paddingOuter":0.125}}},
"layer":[
{"mark":{"type":"bar","color":"#005eb8"},"encoding":{"x":{"field":"count","type":"quantitative","scale":{"domain":[0,1500],"range":[948.6,1477.8],"nice":false}}}},
{"mark":{"type":"rule","color":"#0a62bd","strokeWidth":2.5,"yOffset":-35.5,"y2Offset":35.5},"encoding":{"x":{"field":"last","type":"quantitative"},"y2":{"field":"cat"}}},
{"mark":{"type":"rule","color":"#000","strokeWidth":2.5,"strokeDash":[11,6],"yOffset":-35.5,"y2Offset":35.5},"encoding":{"x":{"field":"pre","type":"quantitative"},"y2":{"field":"cat"}}},
{"mark":{"type":"text","align":"right","dx":-8.3,"fontSize":21.5,"color":"#7f7f7f"},"encoding":{"x":{"datum":0},"text":{"field":"cat"}}},
{"mark":{"type":"text","align":"left","dx":8,"dy":-1.5,"fontSize":21.5,"color":"#111"},"encoding":{"x":{"field":"count","type":"quantitative"},"text":{"field":"count","type":"quantitative","format":","}}},
{"transform":[{"filter":"datum.count<1000"}],"mark":{"type":"text","align":"left","dx":50.5,"dy":-1.5,"fontSize":21.5,"color":"#a6a6a6"},"encoding":{"x":{"field":"count","type":"quantitative"},"text":{"field":"pct"}}},
{"transform":[{"filter":"datum.count>=1000"}],"mark":{"type":"text","align":"left","dx":68.5,"dy":-1.5,"fontSize":21.5,"color":"#a6a6a6"},"encoding":{"x":{"field":"count","type":"quantitative"},"text":{"field":"pct"}}}
]},
{"data":{"name":"hl"},
"encoding":{"y":{"field":"cat","type":"nominal","scale":{"type":"band","domain":["Other","Injury","Minor Illness","Unknown","Mental Health","Epilepsy","Alcohol/Drugs","Asthma","Diabetes"],"range":[891.1,1246],"paddingInner":0.245,"paddingOuter":0.1225}}},
"layer":[
{"mark":{"type":"bar","color":"#005eb8"},"encoding":{"x":{"field":"count","type":"quantitative","scale":{"domain":[0,2000],"range":[1696.7,2194.9],"nice":false}}}},
{"mark":{"type":"rule","color":"#0a62bd","strokeWidth":2.5,"yOffset":-20,"y2Offset":20},"encoding":{"x":{"field":"last","type":"quantitative"},"y2":{"field":"cat"}}},
{"mark":{"type":"rule","color":"#000","strokeWidth":2.5,"strokeDash":[9,5],"yOffset":-17,"y2Offset":17},"encoding":{"x":{"field":"pre","type":"quantitative"},"y2":{"field":"cat"}}},
{"mark":{"type":"text","align":"right","dx":-9,"fontSize":19.5,"color":"#7f7f7f"},"encoding":{"x":{"datum":0},"text":{"field":"cat"}}},
{"mark":{"type":"text","align":"left","dx":8,"dy":-2,"fontSize":20,"color":"#111"},"encoding":{"x":{"field":"count","type":"quantitative"},"text":{"field":"count","type":"quantitative","format":","}}},
{"transform":[{"filter":"datum.count<10"}],"mark":{"type":"text","align":"left","dx":26.4,"dy":-2,"fontSize":20,"color":"#a6a6a6"},"encoding":{"x":{"field":"count","type":"quantitative"},"text":{"field":"pct"}}},
{"transform":[{"filter":"datum.count>=10 && datum.count<100"}],"mark":{"type":"text","align":"left","dx":37.8,"dy":-2,"fontSize":20,"color":"#a6a6a6"},"encoding":{"x":{"field":"count","type":"quantitative"},"text":{"field":"pct"}}},
{"transform":[{"filter":"datum.count>=100 && datum.count<1000"}],"mark":{"type":"text","align":"left","dx":49.2,"dy":-2,"fontSize":20,"color":"#a6a6a6"},"encoding":{"x":{"field":"count","type":"quantitative"},"text":{"field":"pct"}}},
{"transform":[{"filter":"datum.count>=1000"}],"mark":{"type":"text","align":"left","dx":65.6,"dy":-2,"fontSize":20,"color":"#a6a6a6"},"encoding":{"x":{"field":"count","type":"quantitative"},"text":{"field":"pct"}}}
]}
]}
